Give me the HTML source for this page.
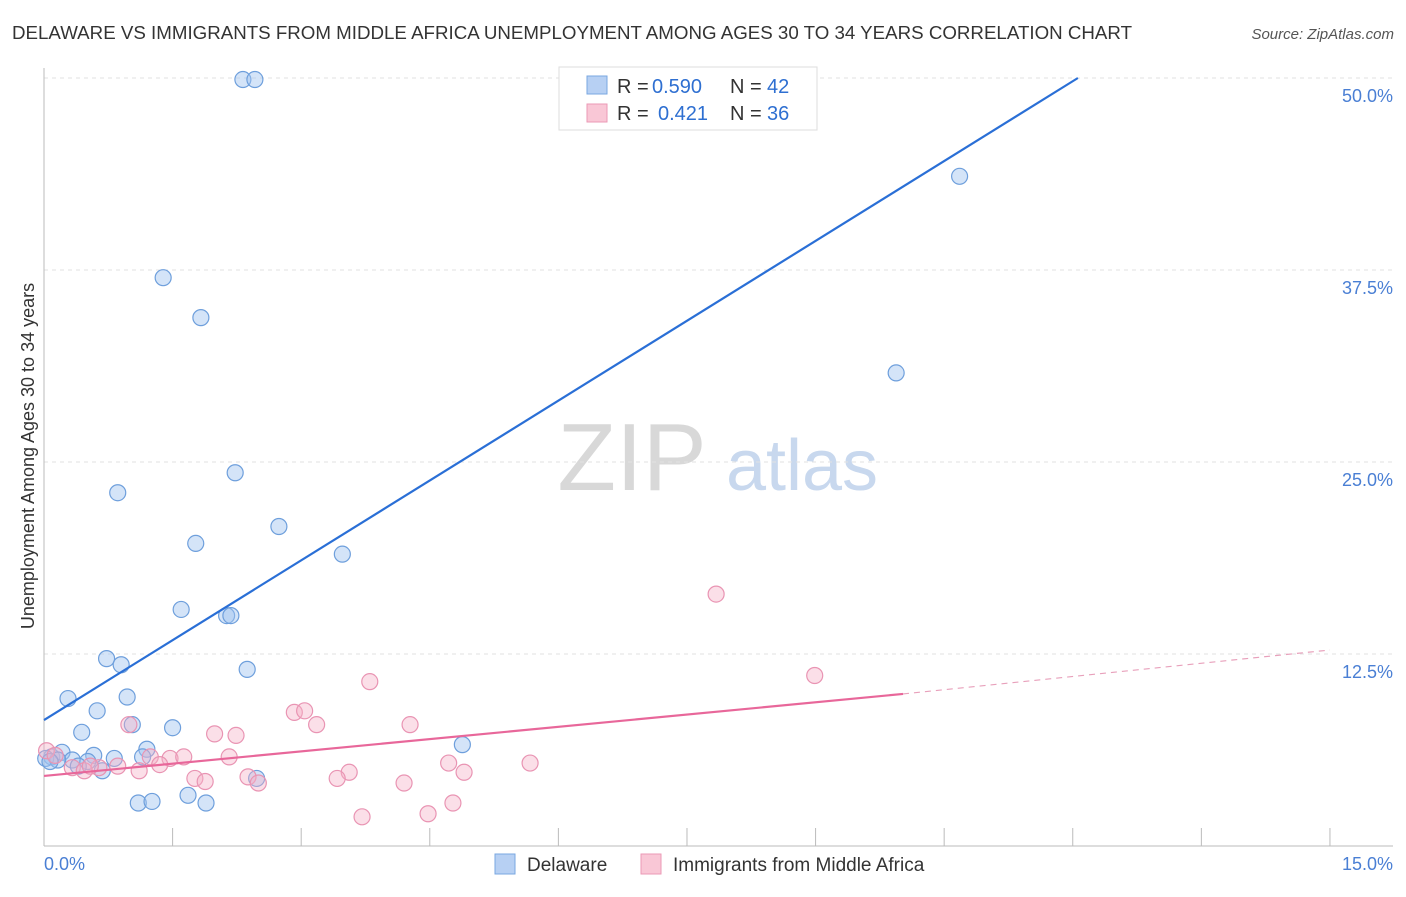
<!DOCTYPE html>
<html><head><meta charset="utf-8"><style>
body{margin:0;background:#fff;font-family:"Liberation Sans",sans-serif}
svg text{font-family:"Liberation Sans",sans-serif}
</style></head><body>
<svg id="chart" width="1406" height="892">
<text x="12" y="39" font-size="18" fill="#333" textLength="1120" lengthAdjust="spacingAndGlyphs">DELAWARE VS IMMIGRANTS FROM MIDDLE AFRICA UNEMPLOYMENT AMONG AGES 30 TO 34 YEARS CORRELATION CHART</text>
<text x="1394" y="39" font-size="15" fill="#555" font-style="italic" text-anchor="end">Source: ZipAtlas.com</text>
<g>
<text x="632" y="490" font-size="96" fill="#d8d8d8" font-family="Liberation Serif" text-anchor="middle">ZIP</text>
<text x="802" y="490" font-size="72" fill="#c8d8ee" text-anchor="middle">atlas</text>
</g>
<g id="grid"></g>
<g id="axes"></g>
<g id="marks"></g>
<text transform="translate(34,456) rotate(-90)" font-size="18" fill="#333" text-anchor="middle">Unemployment Among Ages 30 to 34 years</text>
<g>
<rect x="559" y="67" width="258" height="63" fill="#fff" stroke="#ddd"/>
<rect x="587" y="76" width="20" height="18" fill="#b7d0f3" stroke="#7aa7e0"/>
<text y="93" font-size="20" fill="#333"><tspan x="617">R =</tspan><tspan x="652" fill="#2e6fd1">0.590</tspan><tspan x="730">N =</tspan><tspan x="767" fill="#2e6fd1">42</tspan></text>
<rect x="587" y="104" width="20" height="18" fill="#f9c7d6" stroke="#eb9ab6"/>
<text y="120" font-size="20" fill="#333"><tspan x="617">R =</tspan><tspan x="658" fill="#2e6fd1">0.421</tspan><tspan x="730">N =</tspan><tspan x="767" fill="#2e6fd1">36</tspan></text>
</g>
<g>
<rect x="495" y="854" width="20" height="20" fill="#b7d0f3" stroke="#7aa7e0"/>
<text x="527" y="871" font-size="19" fill="#333">Delaware</text>
<rect x="641" y="854" width="20" height="20" fill="#f9c7d6" stroke="#eb9ab6"/>
<text x="673" y="871" font-size="19" fill="#333">Immigrants from Middle Africa</text>
</g>
</svg>
<script>
const blueX=[2.32,2.46,10.68,1.39,1.83,9.94,2.23,0.86,2.74,1.77,3.48,1.60,2.13,2.18,0.73,0.90,2.37,0.28,0.97,0.62,0.44,1.03,1.50,4.88,1.20,0.09,0.21,0.58,0.82,1.15,0.33,0.51,0.68,0.40,1.10,1.26,1.68,1.89,2.48,0.02,0.16,0.07];
const blueY=[49.9,49.9,43.6,37.0,34.4,30.8,24.3,23.0,20.8,19.7,19.0,15.4,15.0,15.0,12.2,11.8,11.5,9.6,9.7,8.8,7.4,7.9,7.7,6.6,6.3,5.8,6.1,5.9,5.7,5.8,5.6,5.5,4.9,5.2,2.8,2.9,3.3,2.8,4.4,5.7,5.6,5.5];
const pinkX=[7.84,8.99,3.80,2.92,3.04,4.27,3.18,0.99,2.24,1.99,0.03,0.13,2.16,1.47,1.63,1.24,4.72,5.67,1.35,0.86,0.33,0.64,0.47,1.11,3.56,4.90,3.42,1.76,2.38,1.88,2.50,4.20,4.77,4.48,3.71,0.54];
const pinkY=[16.4,11.1,10.7,8.7,8.8,7.9,7.9,7.9,7.2,7.3,6.2,5.9,5.8,5.7,5.8,5.8,5.4,5.4,5.3,5.2,5.1,5.1,4.9,4.9,4.8,4.8,4.4,4.4,4.5,4.2,4.1,4.1,2.8,2.1,1.9,5.2];
const blueLine=[[0,8.2],[12.06,50]];
const pinkLine=[[0,4.56],[10.02,9.9]];
const pinkDash=[[10.02,9.9],[15,12.76]];
const yTicks=[12.5,25,37.5,50];
const yTickLabels=["12.5%","25.0%","37.5%","50.0%"];
const xTicks=[0,1.5,3,4.5,6,7.5,9,10.5,12,13.5,15];
const NS="http://www.w3.org/2000/svg";
const sx=v=>44+v*85.73, sy=v=>846-v*15.36;
function mk(t,a,p){const e=document.createElementNS(NS,t);for(const k in a)e.setAttribute(k,a[k]);document.getElementById(p).appendChild(e);return e;}
yTicks.forEach((t,i)=>{
 const g=mk('line',{x1:44,x2:1393,y1:sy(t),y2:sy(t),stroke:'#e2e2e2','stroke-dasharray':'4,4'},'grid');
 
 
 const l=mk('text',{x:1393,y:sy(t)+24,'font-size':18,fill:'#4a7fd4','text-anchor':'end'},'axes');
 l.textContent=yTickLabels[i];
 
 
});
const ax=mk('line',{x1:44,x2:1393,y1:846,y2:846,stroke:'#bbb'},'axes');


const ay=mk('line',{x1:44,x2:44,y1:68,y2:846,stroke:'#bbb'},'axes');


xTicks.forEach(t=>{
 const e=mk('line',{x1:sx(t),x2:sx(t),y1:828,y2:846,stroke:'#bbb'},'axes');
 
 
});
const x0=mk('text',{x:44,y:870,'font-size':18,fill:'#4a7fd4'},'axes');x0.textContent=xTicks[0].toFixed(1)+'%';


const x1=mk('text',{x:1393,y:870,'font-size':18,fill:'#4a7fd4','text-anchor':'end'},'axes');x1.textContent=xTicks[xTicks.length-1].toFixed(1)+'%';


blueX.forEach((x,i)=>{
 const c=mk('circle',{cx:sx(x),cy:sy(blueY[i]),r:8,fill:'rgba(160,195,240,0.45)',stroke:'#6e9fdc','stroke-width':1.2},'marks');
 
 
});
pinkX.forEach((x,i)=>{
 const c=mk('circle',{cx:sx(x),cy:sy(pinkY[i]),r:8,fill:'rgba(246,175,198,0.4)',stroke:'#e994b3','stroke-width':1.2},'marks');
 
 
});
const bl=mk('line',{x1:sx(blueLine[0][0]),y1:sy(blueLine[0][1]),x2:sx(blueLine[1][0]),y2:sy(blueLine[1][1]),stroke:'#2a6fd6','stroke-width':2.2},'marks');


const pl=mk('line',{x1:sx(pinkLine[0][0]),y1:sy(pinkLine[0][1]),x2:sx(pinkLine[1][0]),y2:sy(pinkLine[1][1]),stroke:'#e8679a','stroke-width':2.2},'marks');


const pd=mk('line',{x1:sx(pinkDash[0][0]),y1:sy(pinkDash[0][1]),x2:sx(pinkDash[1][0]),y2:sy(pinkDash[1][1]),stroke:'#e8a0bb','stroke-width':1.2,'stroke-dasharray':'6,5'},'marks');


</script>
</body></html>
